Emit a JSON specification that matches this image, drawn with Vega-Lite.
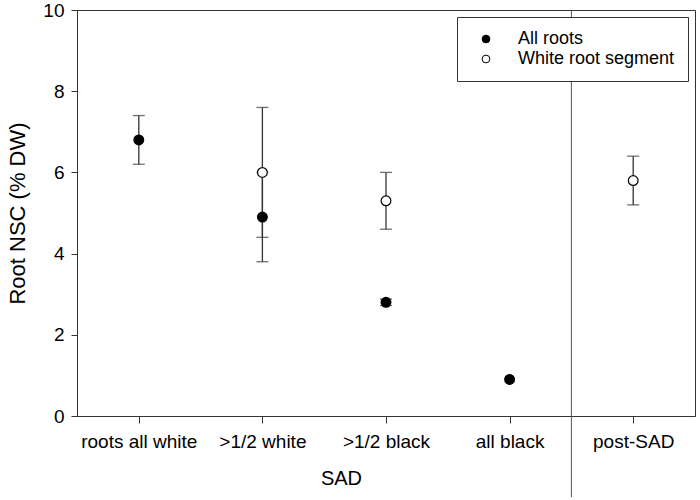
{
  "$schema": "https://vega.github.io/schema/vega-lite/v6.json",
  "autosize": "none",
  "width": 618,
  "height": 406,
  "padding": {"left": 77, "top": 10, "right": 5, "bottom": 84},
  "background": "white",
  "config": {
    "font": "Liberation Sans",
    "view": {"stroke": "#333", "strokeWidth": 1},
    "axis": {"domainColor": "#333", "tickColor": "#333", "labelColor": "black", "titleColor": "black", "grid": false, "labelFont": "Liberation Sans", "titleFont": "Liberation Sans", "titleFontWeight": "normal"},
    "legend": {"labelFont": "Liberation Sans"}
  },
  "layer": [
    {
      "data": {
        "values": [
          {"stage": "roots all white", "series": "All roots", "mean": 6.8, "lo": 6.2, "hi": 7.4},
          {"stage": ">1/2 white", "series": "All roots", "mean": 4.9, "lo": 3.8, "hi": 6.0},
          {"stage": ">1/2 white", "series": "White root segment", "mean": 6.0, "lo": 4.4, "hi": 7.6},
          {"stage": ">1/2 black", "series": "All roots", "mean": 2.8, "lo": 2.72, "hi": 2.88},
          {"stage": ">1/2 black", "series": "White root segment", "mean": 5.3, "lo": 4.6, "hi": 6.0},
          {"stage": "all black", "series": "All roots", "mean": 0.9, "lo": null, "hi": null},
          {"stage": "post-SAD", "series": "White root segment", "mean": 5.8, "lo": 5.2, "hi": 6.4}
        ]
      },
      "encoding": {
        "x": {
          "field": "stage", "type": "nominal",
          "scale": {"type": "point", "padding": 0.5, "domain": ["roots all white", ">1/2 white", ">1/2 black", "all black", "post-SAD"]},
          "sort": null,
          "axis": {"title": "SAD", "titleFontSize": 20, "titleX": 264, "titleY": 62, "titleAlign": "center", "titleBaseline": "middle", "labelAngle": 0, "labelFontSize": 19, "labelPadding": 9, "tickSize": 7, "labelLimit": 300}
        }
      },
      "layer": [
        {
          "transform": [{"filter": "datum.lo != null"}],
          "mark": {"type": "rule", "color": "#333", "strokeWidth": 1.3},
          "encoding": {
            "y": {"field": "lo", "type": "quantitative", "scale": {"domain": [0, 10], "nice": false}},
            "y2": {"field": "hi"}
          }
        },
        {
          "transform": [{"filter": "datum.lo != null"}],
          "mark": {"type": "tick", "color": "#333", "thickness": 1.3, "size": 12, "orient": "horizontal"},
          "encoding": {"y": {"field": "lo", "type": "quantitative"}}
        },
        {
          "transform": [{"filter": "datum.hi != null"}],
          "mark": {"type": "tick", "color": "#333", "thickness": 1.3, "size": 12, "orient": "horizontal"},
          "encoding": {"y": {"field": "hi", "type": "quantitative"}}
        },
        {
          "mark": {"type": "point", "shape": "circle", "size": 95, "stroke": "black", "strokeWidth": 1.2, "opacity": 1, "filled": false},
          "encoding": {
            "y": {
              "field": "mean", "type": "quantitative",
              "scale": {"domain": [0, 10], "nice": false},
              "axis": {"title": "Root NSC (% DW)", "titleFontSize": 22, "titlePadding": 13, "values": [0, 2, 4, 6, 8, 10], "labelFontSize": 19, "tickSize": 6, "labelPadding": 7}
            },
            "fill": {
              "field": "series", "type": "nominal",
              "scale": {"domain": ["All roots", "White root segment"], "range": ["black", "white"]},
              "legend": {
                "title": null, "orient": "top-right", "offset": 7,
                "strokeColor": "#333", "fillColor": "white", "padding": 13,
                "symbolOffset": 7, "symbolType": "circle", "symbolSize": 60,
                "symbolStrokeColor": "black", "symbolStrokeWidth": 1,
                "labelFontSize": 18, "labelOffset": 23, "rowPadding": 2, "labelColor": "black"
              }
            }
          }
        }
      ]
    },
    {
      "data": {"values": [{"divider": 4, "top": 10, "bottom": -2}]},
      "mark": {"type": "rule", "color": "#555", "strokeWidth": 1, "clip": false},
      "encoding": {
        "x": {"field": "divider", "type": "quantitative", "scale": {"domain": [0, 5], "nice": false, "zero": false}, "axis": null},
        "y": {"field": "top", "type": "quantitative", "scale": {"domain": [0, 10], "nice": false}, "axis": null},
        "y2": {"field": "bottom"}
      }
    }
  ],
  "resolve": {"scale": {"x": "independent", "y": "independent"}}
}
